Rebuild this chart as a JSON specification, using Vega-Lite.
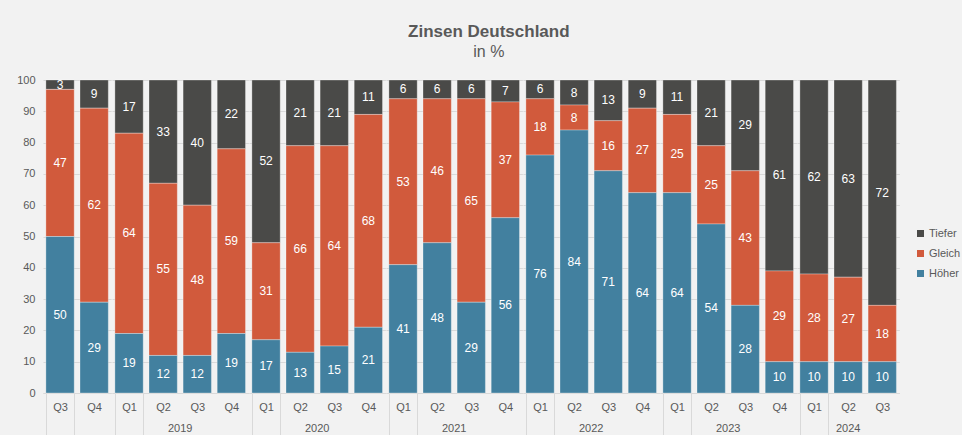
{
  "$schema": "https://vega.github.io/schema/vega-lite/v6.json",
  "background": "#f2f2f2",
  "padding": {"left": 16, "top": 23, "right": 5, "bottom": 0},
  "title": {
    "text": "Zinsen Deutschland",
    "subtitle": "in %",
    "anchor": "middle",
    "dx": 0,
    "font": "Liberation Sans",
    "fontSize": 17,
    "fontWeight": "bold",
    "color": "#595959",
    "subtitleFont": "Liberation Sans",
    "subtitleFontSize": 16,
    "subtitleColor": "#595959",
    "subtitlePadding": 3,
    "offset": 13
  },
  "data": {
    "values": [
      {"year": "2018", "q": "Q3", "Höher": 50, "Gleich": 47, "Tiefer": 3},
      {"year": "2018", "q": "Q4", "Höher": 29, "Gleich": 62, "Tiefer": 9},
      {"year": "2019", "q": "Q1", "Höher": 19, "Gleich": 64, "Tiefer": 17},
      {"year": "2019", "q": "Q2", "Höher": 12, "Gleich": 55, "Tiefer": 33},
      {"year": "2019", "q": "Q3", "Höher": 12, "Gleich": 48, "Tiefer": 40},
      {"year": "2019", "q": "Q4", "Höher": 19, "Gleich": 59, "Tiefer": 22},
      {"year": "2020", "q": "Q1", "Höher": 17, "Gleich": 31, "Tiefer": 52},
      {"year": "2020", "q": "Q2", "Höher": 13, "Gleich": 66, "Tiefer": 21},
      {"year": "2020", "q": "Q3", "Höher": 15, "Gleich": 64, "Tiefer": 21},
      {"year": "2020", "q": "Q4", "Höher": 21, "Gleich": 68, "Tiefer": 11},
      {"year": "2021", "q": "Q1", "Höher": 41, "Gleich": 53, "Tiefer": 6},
      {"year": "2021", "q": "Q2", "Höher": 48, "Gleich": 46, "Tiefer": 6},
      {"year": "2021", "q": "Q3", "Höher": 29, "Gleich": 65, "Tiefer": 6},
      {"year": "2021", "q": "Q4", "Höher": 56, "Gleich": 37, "Tiefer": 7},
      {"year": "2022", "q": "Q1", "Höher": 76, "Gleich": 18, "Tiefer": 6},
      {"year": "2022", "q": "Q2", "Höher": 84, "Gleich": 8, "Tiefer": 8},
      {"year": "2022", "q": "Q3", "Höher": 71, "Gleich": 16, "Tiefer": 13},
      {"year": "2022", "q": "Q4", "Höher": 64, "Gleich": 27, "Tiefer": 9},
      {"year": "2023", "q": "Q1", "Höher": 64, "Gleich": 25, "Tiefer": 11},
      {"year": "2023", "q": "Q2", "Höher": 54, "Gleich": 25, "Tiefer": 21},
      {"year": "2023", "q": "Q3", "Höher": 28, "Gleich": 43, "Tiefer": 29},
      {"year": "2023", "q": "Q4", "Höher": 10, "Gleich": 29, "Tiefer": 61},
      {"year": "2024", "q": "Q1", "Höher": 10, "Gleich": 28, "Tiefer": 62},
      {"year": "2024", "q": "Q2", "Höher": 10, "Gleich": 27, "Tiefer": 63},
      {"year": "2024", "q": "Q3", "Höher": 10, "Gleich": 18, "Tiefer": 72}
    ]
  },
  "transform": [
    {"fold": ["Tiefer", "Gleich", "Höher"], "as": ["cat", "value"]},
    {"calculate": "indexof(['Höher','Gleich','Tiefer'], datum.cat)", "as": "ord"}
  ],
  "facet": {
    "column": {
      "field": "year",
      "type": "ordinal",
      "header": {
        "title": null,
        "labelOrient": "bottom",
        "labelExpr": "datum.value == '2018' ? '' : datum.value",
        "labelFont": "Liberation Sans",
        "labelFontSize": 11,
        "labelColor": "#595959",
        "labelPadding": -13
      }
    }
  },
  "spacing": 0,
  "resolve": {"scale": {"x": "independent"}},
  "spec": {
    "width": {"step": 34.1},
    "height": 313,
    "encoding": {
      "x": {
        "field": "q",
        "type": "nominal",
        "scale": {"paddingInner": 0.17, "paddingOuter": 0.085},
        "axis": {
          "title": null,
          "labelAngle": 0,
          "tickBand": "extent",
          "tickSize": 42,
          "tickColor": "#d9d9d9",
          "tickOpacity": {"condition": {"test": "datum.index <= 0", "value": 1}, "value": 0},
          "labelPadding": -34,
          "domainColor": "#d9d9d9",
          "labelFont": "Liberation Sans",
          "labelFontSize": 11,
          "labelColor": "#595959"
        }
      },
      "y": {
        "field": "value",
        "type": "quantitative",
        "stack": "zero",
        "scale": {"domain": [0, 100]},
        "axis": {
          "title": null,
          "values": [0, 10, 20, 30, 40, 50, 60, 70, 80, 90, 100],
          "domain": false,
          "ticks": false,
          "gridColor": "#d9d9d9",
          "labelPadding": 8,
          "labelFont": "Liberation Sans",
          "labelFontSize": 11,
          "labelColor": "#595959"
        }
      },
      "order": {"field": "ord", "type": "quantitative"}
    },
    "layer": [
      {
        "mark": {"type": "bar", "stroke": "#ffffff", "strokeWidth": 0.6, "strokeOpacity": 0.5},
        "encoding": {
          "color": {
            "field": "cat",
            "type": "nominal",
            "scale": {"domain": ["Tiefer", "Gleich", "Höher"], "range": ["#4a4a48", "#d15a3c", "#42809f"]},
            "legend": {
              "title": null,
              "orient": "none",
              "legendX": 872,
              "legendY": 148,
              "symbolType": "square",
              "symbolSize": 49,
              "symbolStrokeWidth": 0,
              "labelOffset": 3,
              "rowPadding": 8,
              "labelFont": "Liberation Sans",
              "labelFontSize": 11,
              "labelColor": "#595959"
            }
          }
        }
      },
      {
        "mark": {"type": "text", "color": "#ffffff", "font": "Liberation Sans", "fontSize": 12},
        "encoding": {
          "y": {"field": "value", "type": "quantitative", "stack": "zero", "bandPosition": 0.5},
          "text": {"field": "value", "type": "quantitative"}
        }
      }
    ]
  },
  "config": {
    "view": {"stroke": null},
    "font": "Liberation Sans"
  }
}
